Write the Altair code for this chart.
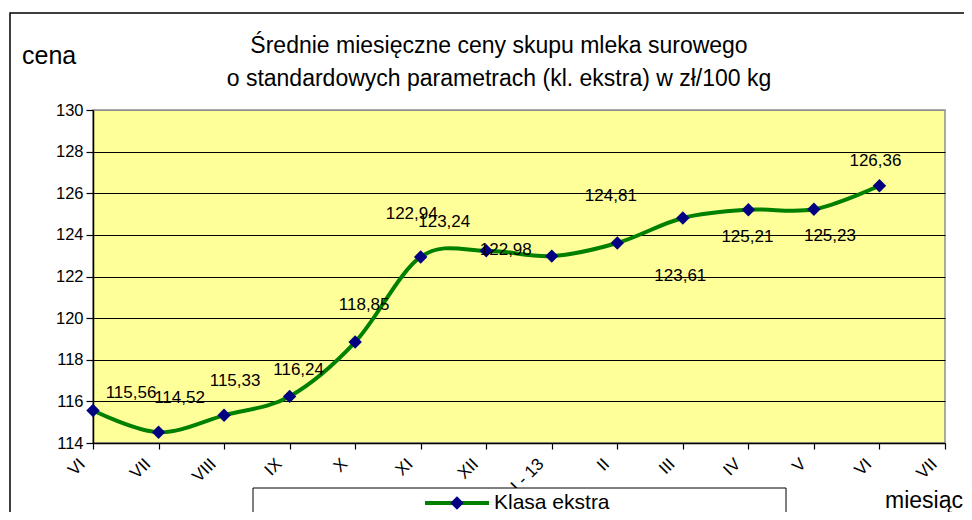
import json
import altair as alt
import pandas as pd

# ---------------- data ----------------
month_labels = ["VI", "VII", "VIII", "IX", "X", "XI", "XII", "I - 13",
                "II", "III", "IV", "V", "VI", "VII"]
prices = [115.56, 114.52, 115.33, 116.24, 118.85, 122.94, 123.24,
          122.98, 123.61, 124.81, 125.21, 125.23, 126.36]
series_name = "Klasa ekstra"
title_lines = ["Średnie miesięczne ceny skupu mleka surowego",
               "o standardowych parametrach (kl. ekstra) w zł/100 kg"]
y_title = "cena"
x_title = "miesiąc"
y_ticks = [114, 116, 118, 120, 122, 124, 126, 128, 130]

# label nudges (pixels) reproducing the label placement of the original
label_dx = [38, 21, 11, 9, 9, -9, -42, -46, 63, -72, -1, 16, -4]
label_dy = [-18, -34, -34, -26, -37, -43, -29, -6, 33, -22, 27, 27, -25]

# ---------------- layout ----------------
W, H = 852, 333
FONT = "Liberation Sans"
px_x = W / (len(month_labels) - 1)
px_y = H / (y_ticks[-1] - y_ticks[0])

df = pd.DataFrame({"idx": list(range(len(prices))), "price": prices})
df["label"] = [f"{p:.2f}".replace(".", ",") for p in prices]
df["lx"] = df["idx"] + pd.Series(label_dx) / px_x
df["ly"] = df["price"] - pd.Series(label_dy) / px_y

x_scale = alt.Scale(domain=[0, len(month_labels) - 1], nice=False, zero=False)
y_scale = alt.Scale(domain=[y_ticks[0], y_ticks[-1]], nice=False, zero=False)

x_axis = alt.Axis(
    values=list(range(len(month_labels))),
    labelExpr=json.dumps(month_labels) + "[datum.value]",
    labelAngle=-45, labelAlign="right", labelBaseline="middle",
    labelPadding=12, labelOffset=-11, tickSize=6, grid=False, title=None,
    labelFont=FONT, labelFontSize=17, labelColor="black",
    labelOverlap=False, labelFlush=False,
    domainColor="black", domainWidth=1.5, tickColor="black", tickWidth=1.2,
)
y_axis = alt.Axis(
    values=y_ticks, grid=True,
    gridColor={"condition": {"test": "datum.value === 130", "value": "#909090"},
               "value": "#000000"},
    gridWidth=1, tickSize=7, labelPadding=3, title=None,
    labelFont=FONT, labelFontSize=16.5, labelColor="black",
    domainColor="black", domainWidth=1.5, tickColor="black", tickWidth=1.2,
)

base = alt.Chart(df)

line = base.mark_line(interpolate="cardinal", color="#008000", strokeWidth=4).encode(
    x=alt.X("idx:Q", scale=x_scale, axis=x_axis),
    y=alt.Y("price:Q", scale=y_scale, axis=y_axis),
)
points = base.mark_point(shape="diamond", filled=True, size=180,
                         color="#000080", opacity=1).encode(
    x=alt.X("idx:Q", scale=x_scale),
    y=alt.Y("price:Q", scale=y_scale),
)
labels = base.mark_text(font=FONT, fontSize=17, color="black",
                        align="center", baseline="middle").encode(
    x=alt.X("lx:Q", scale=x_scale),
    y=alt.Y("ly:Q", scale=y_scale),
    text="label:N",
)

one = alt.Data(values=[{"k": 1}])

outer = alt.Chart(one).mark_rect(fillOpacity=0, stroke="black", strokeWidth=1.5).encode(
    x=alt.value(-83), x2=alt.value(900), y=alt.value(-97), y2=alt.value(450)
)
title1 = alt.Chart(one).mark_text(text=title_lines[0], font=FONT, fontSize=23,
                                  color="black", align="center", baseline="middle").encode(
    x=alt.value(406), y=alt.value(-64))
title2 = alt.Chart(one).mark_text(text=title_lines[1], font=FONT, fontSize=23,
                                  color="black", align="center", baseline="middle").encode(
    x=alt.value(406), y=alt.value(-31))
ytitle = alt.Chart(one).mark_text(text=y_title, font=FONT, fontSize=25,
                                  color="black", align="left", baseline="middle").encode(
    x=alt.value(-71), y=alt.value(-54))
xtitle = alt.Chart(one).mark_text(text=x_title, font=FONT, fontSize=23,
                                  color="black", align="left", baseline="middle").encode(
    x=alt.value(792), y=alt.value(391))

leg_box = alt.Chart(one).mark_rect(fill="white", stroke="black", strokeWidth=1).encode(
    x=alt.value(160), x2=alt.value(693), y=alt.value(378), y2=alt.value(440))
leg_line = alt.Chart(one).mark_rule(color="#008000", strokeWidth=4).encode(
    x=alt.value(332), x2=alt.value(396), y=alt.value(393))
leg_pt = alt.Chart(one).mark_point(shape="diamond", filled=True, size=180,
                                   color="#000080", opacity=1).encode(
    x=alt.value(364), y=alt.value(393))
leg_txt = alt.Chart(one).mark_text(text=series_name, font=FONT, fontSize=21,
                                   color="black", align="left", baseline="middle").encode(
    x=alt.value(401), y=alt.value(393))

chart = alt.layer(
    line, points, labels, outer, title1, title2, ytitle, xtitle,
    leg_box, leg_line, leg_pt, leg_txt,
).properties(
    width=W, height=H, autosize="none",
    padding={"left": 85, "top": 102, "right": 19, "bottom": 69},
    background="white",
).configure_view(
    fill="#FFFF99", stroke="#909090", strokeWidth=1.5
)

chart.save("out.html", embed_options={"renderer": "svg", "actions": False})
